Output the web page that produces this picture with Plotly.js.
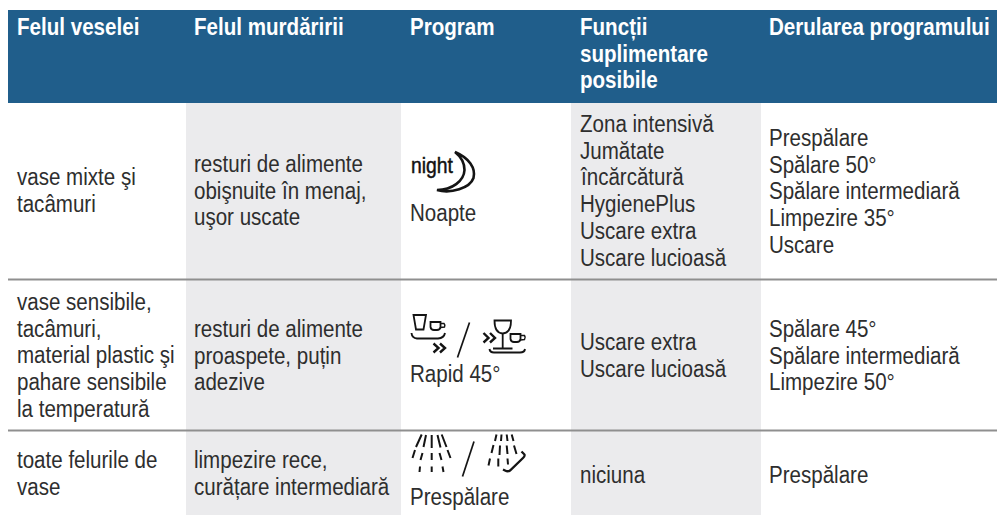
<!DOCTYPE html>
<html><head><meta charset="utf-8">
<script src="https://cdn.plot.ly/plotly-3.0.1.min.js"></script>
<style>html,body{margin:0;padding:0;background:#fff}#c{width:997px;height:515px}</style>
</head><body><div id="c"></div>
<script>
const headers = [["Felul veselei"],["Felul murdăririi"],["Program"],["Funcții","suplimentare","posibile"],["Derularea programului"]];
const rowA = [["vase mixte şi","tacâmuri"],["resturi de alimente","obişnuite în menaj,","uşor uscate"],["Noapte"],["Zona intensivă","Jumătate","încărcătură","HygienePlus","Uscare extra","Uscare lucioasă"],["Prespălare","Spălare 50°","Spălare intermediară","Limpezire 35°","Uscare"]];
const rowB = [["vase sensibile,","tacâmuri,","material plastic şi","pahare sensibile","la temperatură"],["resturi de alimente","proaspete, puțin","adezive"],["Rapid 45°"],["Uscare extra","Uscare lucioasă"],["Spălare 45°","Spălare intermediară","Limpezire 50°"]];
const rowC = [["toate felurile de","vase"],["limpezire rece,","curățare intermediară"],["Prespălare"],["niciuna"],["Prespălare"]];
const nightLabel = "night";

const colX = [17,194,410,580,769];
const headTop = [27,27,27,27,27];
const rowTops = [
  [177,164,213,124,138],
  [302,329,374,342,329],
  [460,460,497,475,475]
];
const lineH = 26.7;
const FONT = '"Liberation Sans",Arial,sans-serif';
const INK = '#2e2e2e';
const SQUEEZE = {head:0.895, body:0.894, tag:0.88};

const annotations = [];
const squeezes = [];
function put(text,x,y,size,color,weight,k){
  annotations.push({xref:'x',yref:'y',x,y,text,showarrow:false,xanchor:'left',yanchor:'middle',
    align:'left',borderpad:0,font:{family:FONT,size,color,weight:weight||400}});
  squeezes.push(k);
}
headers.forEach((ls,c)=>ls.forEach((t,i)=>put(t,colX[c]-1,headTop[c]+i*26.5,23,'#ffffff',700,SQUEEZE.head)));
[rowA,rowB,rowC].forEach((row,r)=>row.forEach((ls,c)=>ls.forEach((t,i)=>
  put(t,colX[c]-1,rowTops[r][c]+i*lineH,23,INK,400,SQUEEZE.body))));
put(nightLabel,410,165,22,'#111',400,SQUEEZE.tag);

const rect=(x0,y0,x1,y1,fill)=>({type:'rect',xref:'x',yref:'y',x0,y0,x1,y1,fillcolor:fill,line:{width:0},layer:'below'});
const rule=(y)=>({type:'line',xref:'x',yref:'y',x0:8,x1:997,y0:y,y1:y,line:{color:'#8f8f8f',width:2},layer:'above'});
const ink=(path,w)=>({type:'path',xref:'x',yref:'y',path,line:{color:'#141414',width:w||1.5},fillcolor:'rgba(0,0,0,0)',layer:'above'});

const iconStrokes = [
  ["M455 152C469 158 476 168 473.5 178C470 188 451 194 437 190C452 190 464 181 464.5 170C464.5 162 460 156 455 152Z",2.6],
  ["M413.5 315L426 315L423.5 329.5L416 329.5Z",1.8],
  ["M430.5 322L440.5 322L440.5 327Q440 330 437 330L434 330Q431 330 430.5 327Z",1.8],
  ["M440.5 323.5L444 323.5Q445.5 325 444.5 327L440.5 327.5",1.5],
  ["M411.5 333Q412 338 417 338.5L438 338.5Q444 338 445 333",1.9],
  ["M433.5 343.5L438.5 348L433.5 352.5",2.4],
  ["M440 343.5L445 348L440 352.5",2.4],
  ["M469.5 322.5L457.5 357.5",1.7],
  ["M483.5 333L488.5 338L483.5 342.5",2.4],
  ["M490 333L495 338L490 342.5",2.4],
  ["M494.5 320.5L511 320.5Q511 333 502.7 333.5Q494.5 333 494.5 320.5Z",1.8],
  ["M502.7 333.5L502.7 347.5M493 348.5L512.5 348.5",1.8],
  ["M510.5 334L520.5 334L520.5 339Q520 342 517 342L514 342Q511 342 510.5 339Z",1.8],
  ["M520.5 335.5L524.5 335.5Q526 337.5 524.5 339.5L520.5 340",1.5],
  ["M489.5 349Q490 352.5 494 352.5L520 352.5Q524.5 352.5 525 349",1.9],
  ["M431.7 435L431.7 448M431.7 453L431.7 460M431.7 466.5L431.7 472",2],
  ["M426 435L423.5 447M422.5 453L420.5 460M420 466.5L419.5 472",2],
  ["M421.7 434.5L416 447M415 450L412.5 458",2],
  ["M437.5 435L440.5 447.5M439.5 453L441.5 460M442.5 466.5L443.5 472",2],
  ["M441.7 434.5L446.5 447M447.5 450L450.5 458",2],
  ["M474 441.5L462.5 476.5",1.7],
  ["M496.5 434.5L495 441M501.5 434.5L501 441M506.7 434.5L507.5 441M511.7 434.5L513.5 441",2],
  ["M493.5 445L491.5 453M500 445.5L499.5 455M506.7 445.5L507.5 454M514 445.5L516.5 454",2],
  ["M490 458.5L488.5 465.5M498.3 458.5L498.3 466.5M507.5 458.5L508 464.5",2],
  ["M521.5 451.5L524.5 454.5Q525 456 523 458L510 470.5Q508 472 505 470.5L503 469.5",2.3]
];

const shapes = [
  rect(8,10,997,103,'#205e8b'),
  rect(186,103,401,515,'#ebebed'),
  rect(571,103,761,515,'#ebebed'),
  rule(279.5),rule(430.5),
  ...iconStrokes.map(s=>ink(s[0],s[1]))
];

Plotly.newPlot('c',[],{
  width:997,height:515,margin:{l:0,r:0,t:0,b:0},
  paper_bgcolor:'#fff',plot_bgcolor:'#fff',showlegend:false,
  xaxis:{range:[0,997],visible:false,fixedrange:true},
  yaxis:{range:[515,0],visible:false,fixedrange:true},
  shapes,annotations
},{displayModeBar:false,staticPlot:true}).then(gd=>{
  const texts=gd.querySelectorAll('text.annotation-text');
  texts.forEach((el,i)=>{
    const k=squeezes[i];
    const x0=parseFloat(el.getAttribute('x'))||0;
    const w=el.getComputedTextLength();
    el.setAttribute('transform',`translate(${x0},0) scale(${k},1) translate(${-x0},0)`);
    const box=el.parentNode.querySelector('rect.bg');
    if(box) box.setAttribute('width',(w*k).toFixed(2));
  });
  const tag=texts[texts.length-1];
  tag.style.stroke='#111';
  tag.style.strokeWidth='0.45px';
});
</script></body></html>
